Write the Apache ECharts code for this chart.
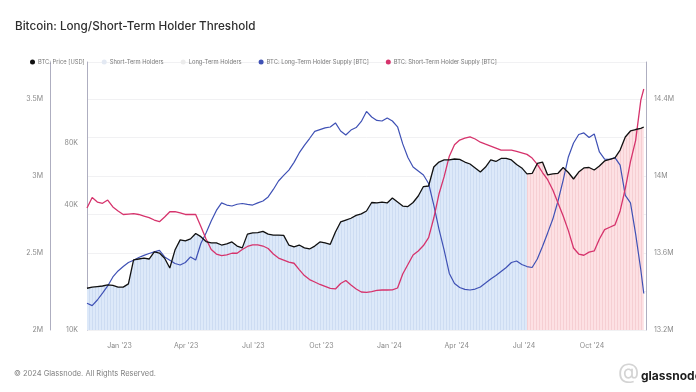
<!DOCTYPE html>
<html>
<head>
<meta charset="utf-8">
<script src="https://cdn.jsdelivr.net/npm/echarts@6/dist/echarts.min.js"></script>
<style>
  html, body { margin: 0; padding: 0; background: #fff; }
  #chart { width: 696px; height: 392px; }
</style>
</head>
<body>
<div id="chart"></div>
<script>
// ---------- DATA (weekly samples) ----------
const dates = [
  '2022-11-18','2022-11-25','2022-12-02','2022-12-09','2022-12-16','2022-12-23','2022-12-30',
  '2023-01-06','2023-01-13','2023-01-20','2023-01-27','2023-02-03','2023-02-10','2023-02-17','2023-02-24',
  '2023-03-03','2023-03-10','2023-03-17','2023-03-24','2023-03-31','2023-04-07','2023-04-14','2023-04-21',
  '2023-04-28','2023-05-05','2023-05-12','2023-05-19','2023-05-26','2023-06-02','2023-06-09','2023-06-16',
  '2023-06-23','2023-06-30','2023-07-07','2023-07-14','2023-07-21','2023-07-28','2023-08-04','2023-08-11',
  '2023-08-18','2023-08-25','2023-09-01','2023-09-08','2023-09-15','2023-09-22','2023-09-29','2023-10-06',
  '2023-10-13','2023-10-20','2023-10-27','2023-11-03','2023-11-10','2023-11-17','2023-11-24','2023-12-01',
  '2023-12-08','2023-12-15','2023-12-22','2023-12-29','2024-01-05','2024-01-12','2024-01-19','2024-01-26',
  '2024-02-02','2024-02-09','2024-02-16','2024-02-23','2024-03-01','2024-03-08','2024-03-15','2024-03-22',
  '2024-03-29','2024-04-05','2024-04-12','2024-04-19','2024-04-26','2024-05-03','2024-05-10','2024-05-17',
  '2024-05-24','2024-05-31','2024-06-07','2024-06-14','2024-06-21','2024-06-28','2024-07-05','2024-07-12',
  '2024-07-19','2024-07-26','2024-08-02','2024-08-09','2024-08-16','2024-08-23','2024-08-30','2024-09-06',
  '2024-09-13','2024-09-20','2024-09-27','2024-10-04','2024-10-11','2024-10-18','2024-10-25','2024-11-01',
  '2024-11-08','2024-11-15','2024-11-22','2024-11-29','2024-12-06','2024-12-10'
];

// BTC price [USD]
const price = [
  15900,16100,16200,16300,16500,16400,16100,
  16100,16700,21800,22000,22200,22000,23800,23500,
  22200,19900,24300,27200,26900,27500,29200,28200,
  26700,26300,26300,25700,26000,26600,25400,24900,
  29000,29400,29500,29900,29000,28700,28700,28600,
  25700,25200,25700,24900,24600,25400,26600,26300,
  25900,29700,33200,33900,34600,35700,36300,37500,
  41200,41000,41400,41000,43300,41400,39600,39400,
  41200,44300,49200,49500,61100,64600,66100,66100,
  66800,66500,64600,63200,60500,57800,61100,66100,
  65000,67200,67200,66100,62900,60500,56600,56900,
  63600,64600,56000,56600,57000,60800,57500,53500,
  57800,60500,60800,59100,61800,65400,66500,67600,
  73800,85300,91200,92700,93800,95300
];

// BTC: Long-Term Holder Supply [BTC]
const lthSupply = [
  13339000,13327000,13356000,13392000,13429000,13476000,13507000,
  13530000,13551000,13563000,13577000,13588000,13598000,13606000,13614000,
  13580000,13563000,13546000,13538000,13551000,13580000,13564000,13650000,
  13705000,13767000,13822000,13861000,13850000,13845000,13854000,13858000,
  13853000,13850000,13861000,13871000,13892000,13931000,13975000,14004000,
  14032000,14072000,14121000,14160000,14196000,14233000,14242000,14251000,
  14256000,14277000,14235000,14214000,14240000,14253000,14285000,14337000,
  14308000,14290000,14287000,14303000,14287000,14257000,14168000,14097000,
  14048000,14027000,14006000,13962000,13850000,13725000,13616000,13494000,
  13442000,13421000,13411000,13408000,13413000,13424000,13444000,13465000,
  13483000,13504000,13525000,13551000,13559000,13541000,13530000,13525000,
  13569000,13634000,13705000,13777000,13871000,13980000,14100000,14173000,
  14217000,14225000,14201000,14220000,14126000,14089000,14087000,14097000,
  14058000,13900000,13861000,13699000,13512000,13390000
];

// BTC: Short-Term Holder Supply [BTC]
const sthSupply = [
  2793000,2862000,2832000,2824000,2845000,2800000,2774000,
  2751000,2754000,2757000,2751000,2741000,2731000,2715000,2704000,
  2735000,2769000,2769000,2761000,2751000,2751000,2751000,2673000,
  2592000,2523000,2494000,2484000,2488000,2499000,2499000,2523000,
  2543000,2553000,2553000,2546000,2530000,2494000,2468000,2455000,
  2442000,2434000,2393000,2354000,2328000,2312000,2296000,2283000,
  2270000,2267000,2302000,2322000,2293000,2267000,2247000,2244000,
  2250000,2257000,2260000,2260000,2261000,2273000,2364000,2426000,
  2488000,2514000,2549000,2601000,2728000,2884000,2997000,3130000,
  3204000,3235000,3248000,3256000,3242000,3221000,3208000,3196000,
  3183000,3170000,3170000,3170000,3161000,3152000,3142000,3118000,
  3077000,3024000,2977000,2910000,2826000,2741000,2646000,2533000,
  2494000,2486000,2506000,2514000,2592000,2653000,2668000,2683000,
  2774000,2919000,3095000,3233000,3495000,3567000
];

// Date from which the background fill switches from the blue to the pink regime
const regimeSwitch = '2024-07-05';

// Tick labels
const xTickDates = ['2023-01-01','2023-04-01','2023-07-01','2023-10-01','2024-01-01','2024-04-01','2024-07-01','2024-10-01'];
const priceTickValues = [10000, 40000, 80000];
const priceTickLabels = ['10K', '40K', '80K'];
const sthTickLabels = ['2M', '2.5M', '3M', '3.5M'];
const lthTickLabels = ['13.2M', '13.6M', '14M', '14.4M'];

// ---------- AXIS RANGES ----------
const xMin = '2022-11-18', xMax = '2024-12-13';
const priceMin = 10000, priceMax = 196200;
const sthMin = 2000000, sthMax = 3742500, sthStep = 250000;
const lthMin = 13200000, lthMax = 14594000, lthStep = 200000;

// ---------- BUILD ----------
const monthNames = ['Jan','Feb','Mar','Apr','May','Jun','Jul','Aug','Sep','Oct','Nov','Dec'];
const ts = s => Date.parse(s + 'T00:00:00Z');
function pair(arr) { return dates.map((d, i) => [ts(d), arr[i]]); }
const blueFill = dates.map((d, i) => [ts(d), d <= regimeSwitch ? price[i] : '-']);
const pinkFill = dates.map((d, i) => [ts(d), d >= regimeSwitch ? price[i] : '-']);

function stripes(base, line) {
  const c = document.createElement('canvas');
  c.width = 3; c.height = 4;
  const g = c.getContext('2d');
  g.fillStyle = base; g.fillRect(0, 0, 3, 4);
  g.fillStyle = line; g.fillRect(2, 0, 1, 4);
  return c;
}
const bluePattern = { image: stripes('#dde9f9', '#cddcf2'), repetition: 'repeat' };
const pinkPattern = { image: stripes('#fde1e4', '#f6cfd3'), repetition: 'repeat' };

const FONT = 'Inter, "Open Sans", sans-serif';
const axisLineStyle = { color: '#aeaec0', width: 1 };
const labelStyle = { fontSize: 7, color: '#8a8a8a', fontFamily: FONT };

const chart = echarts.init(document.getElementById('chart'), null, { renderer: 'canvas' });
chart.setOption({
  animation: false,
  backgroundColor: '#fff',
  title: {
    text: 'Bitcoin: Long/Short-Term Holder Threshold',
    left: 10, top: 15,
    textStyle: { fontFamily: FONT, fontSize: 11.7, fontWeight: 500, color: '#2e2e2e' }
  },
  legend: {
    left: 25, top: 54,
    icon: 'circle', itemWidth: 5, itemHeight: 5, itemGap: 17,
    textStyle: { fontSize: 5.8, color: '#7a7a7a', fontFamily: FONT, padding: [0, 0, 0, -2] },
    data: [
      { name: 'BTC: Price [USD]', itemStyle: { color: '#111' } },
      { name: 'Short-Term Holders', itemStyle: { color: '#e3e9f3' } },
      { name: 'Long-Term Holders', itemStyle: { color: '#ececec' } },
      { name: 'BTC: Long-Term Holder Supply [BTC]', itemStyle: { color: '#3f51b5' } },
      { name: 'BTC: Short-Term Holder Supply [BTC]', itemStyle: { color: '#d6336c' } }
    ]
  },
  grid: { left: 87, right: 50, top: 62, bottom: 62 },
  xAxis: {
    type: 'value', min: ts(xMin), max: ts(xMax),
    axisLine: { show: false }, axisTick: { show: false }, splitLine: { show: false },
    axisLabel: Object.assign({}, labelStyle, {
      customValues: xTickDates.map(ts), margin: 12, hideOverlap: false,
      formatter: function (v) {
        const d = new Date(v);
        return monthNames[d.getUTCMonth()] + " '" + String(d.getUTCFullYear()).slice(2);
      }
    })
  },
  yAxis: [
    { // 0: STH supply (outer left)
      type: 'value', position: 'left', offset: 37,
      min: sthMin, max: sthMax, interval: sthStep,
      axisLine: { show: true, lineStyle: axisLineStyle }, axisTick: { show: false },
      splitLine: { show: true, lineStyle: { color: '#f1f1f3', width: 1 } },
      axisLabel: Object.assign({}, labelStyle, {
        margin: 7, showMaxLabel: false,
        formatter: function (v) {
          const k = Math.round((v - sthMin) / sthStep);
          if (k % 2 !== 0 || v > sthMax - 1) return '';
          return sthTickLabels[k / 2] || '';
        }
      })
    },
    { // 1: price label scale (log2 doublings above priceMin), labels only
      type: 'value', position: 'left', offset: 0,
      min: 0, max: Math.log2(priceMax / priceMin),
      axisLine: { show: true, lineStyle: axisLineStyle }, axisTick: { show: false },
      splitLine: { show: false },
      axisLabel: Object.assign({}, labelStyle, {
        margin: 9,
        customValues: priceTickValues.map(v => Math.log2(v / priceMin)),
        formatter: function (v) {
          for (let i = 0; i < priceTickValues.length; i++) {
            if (Math.abs(Math.log2(priceTickValues[i] / priceMin) - v) < 1e-6) return priceTickLabels[i];
          }
          return '';
        }
      })
    },
    { // 2: price log axis for the data
      type: 'log', logBase: 2, min: priceMin, max: priceMax, show: false
    },
    { // 3: LTH supply (right)
      type: 'value', position: 'right', offset: 0,
      min: lthMin, max: lthMax, interval: lthStep,
      axisLine: { show: true, lineStyle: axisLineStyle }, axisTick: { show: false },
      splitLine: { show: false },
      axisLabel: Object.assign({}, labelStyle, {
        margin: 8, showMaxLabel: false,
        formatter: function (v) {
          const k = Math.round((v - lthMin) / lthStep);
          if (k % 2 !== 0 || v > lthMax - 1) return '';
          return lthTickLabels[k / 2] || '';
        }
      })
    }
  ],
  series: [
    {
      name: 'Short-Term Holders', type: 'line', yAxisIndex: 2, data: blueFill,
      showSymbol: false, silent: true, z: 1,
      lineStyle: { width: 0 }, itemStyle: { color: '#dce8f9' },
      areaStyle: { color: bluePattern, opacity: 1, origin: 'start' }
    },
    {
      name: 'Long-Term Holders', type: 'line', yAxisIndex: 2, data: pinkFill,
      showSymbol: false, silent: true, z: 1,
      lineStyle: { width: 0 }, itemStyle: { color: '#fde0e3' },
      areaStyle: { color: pinkPattern, opacity: 1, origin: 'start' }
    },
    {
      name: 'BTC: Price [USD]', type: 'line', yAxisIndex: 2, data: pair(price),
      showSymbol: false, z: 4,
      lineStyle: { color: '#111', width: 1.3 }, itemStyle: { color: '#111' }
    },
    {
      name: 'BTC: Long-Term Holder Supply [BTC]', type: 'line', yAxisIndex: 3, data: pair(lthSupply),
      showSymbol: false, z: 3,
      lineStyle: { color: '#3f51b5', width: 1.2 }, itemStyle: { color: '#3f51b5' }
    },
    {
      name: 'BTC: Short-Term Holder Supply [BTC]', type: 'line', yAxisIndex: 0, data: pair(sthSupply),
      showSymbol: false, z: 3,
      lineStyle: { color: '#d6336c', width: 1.3 }, itemStyle: { color: '#d6336c' }
    }
  ],
  graphic: [
    {
      type: 'text', left: 14, top: 370,
      style: { text: '© 2024 Glassnode. All Rights Reserved.', fontSize: 7.5, fill: '#808080', fontFamily: FONT }
    },
    {
      type: 'text', left: 618, top: 361,
      style: { text: '@', fontSize: 22, fill: '#d4d4d4', fontFamily: FONT }
    },
    {
      type: 'text', left: 641, top: 370,
      style: { text: 'glassnode', fontSize: 12, fontWeight: 'bold', fill: '#1e1e1e', fontFamily: FONT }
    }
  ]
});
</script>
</body>
</html>
